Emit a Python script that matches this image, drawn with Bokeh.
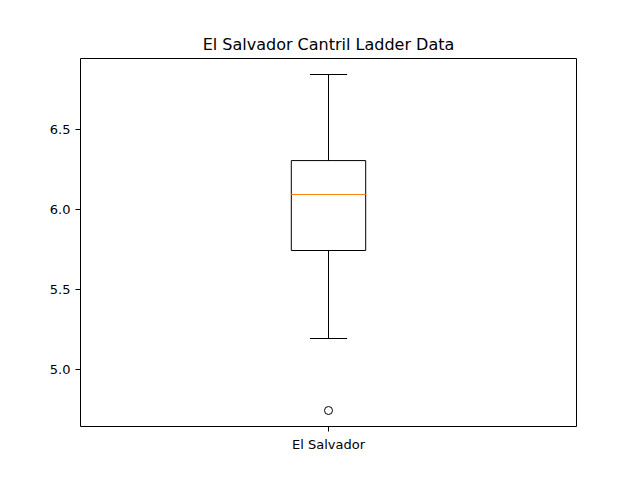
from bokeh.plotting import figure
from bokeh.models import FixedTicker, Range1d, PrintfTickFormatter
from bokeh.embed import file_html
from bokeh.resources import INLINE

# values
country = "El Salvador"
pos = [1]
whisker_low = [5.194]
q1 = [5.744]
median = [6.094]
q3 = [6.306]
whisker_high = [6.844]
outliers = [4.744]
y_ticks = [5.0, 5.5, 6.0, 6.5]

box_w = 0.15
cap_w = 0.075

p = figure(width=632, height=472, output_backend="svg", toolbar_location=None,
           title="El Salvador Cantril Ladder Data",
           x_range=Range1d(0.5, 1.5), y_range=Range1d(4.644, 6.944),
           min_border_left=80, min_border_right=56, min_border_top=58, min_border_bottom=46)

p.title.align = "center"
p.title.text_font = "DejaVu Sans"
p.title.text_font_style = "normal"
p.title.text_font_size = "16px"
p.title.text_color = "black"
p.xgrid.visible = False
p.ygrid.visible = False
p.outline_line_color = "black"
p.outline_line_alpha = 1

for ax in (p.xaxis, p.yaxis):
    ax.major_label_text_font = "DejaVu Sans"
    ax.major_label_text_font_size = "13px"
    ax.major_label_text_color = "black"
    ax.axis_line_color = None
    ax.minor_tick_line_color = None
    ax.major_tick_in = 0
    ax.major_tick_out = 5
    ax.major_tick_line_color = "black"

p.xaxis.ticker = FixedTicker(ticks=pos)
p.xaxis.major_label_overrides = {1: country}
p.yaxis.ticker = FixedTicker(ticks=y_ticks)
p.yaxis.formatter = PrintfTickFormatter(format="%.1f")

x = pos[0]
p.segment(x0=pos, y0=q3, x1=pos, y1=whisker_high, line_color="black", line_width=1)
p.segment(x0=pos, y0=whisker_low, x1=pos, y1=q1, line_color="black", line_width=1)
p.segment(x0=[x - cap_w / 2], y0=whisker_high, x1=[x + cap_w / 2], y1=whisker_high, line_color="black")
p.segment(x0=[x - cap_w / 2], y0=whisker_low, x1=[x + cap_w / 2], y1=whisker_low, line_color="black")
p.quad(left=[x - box_w / 2], right=[x + box_w / 2], bottom=q1, top=q3,
       fill_color=None, line_color="black", line_width=1)
p.segment(x0=[x - box_w / 2], y0=median, x1=[x + box_w / 2], y1=median, line_color="#ff7f0e", line_width=1)
p.scatter(x=pos * len(outliers), y=outliers, size=8, fill_color=None, line_color="black")

open("out.html", "w").write(file_html(p, INLINE))
